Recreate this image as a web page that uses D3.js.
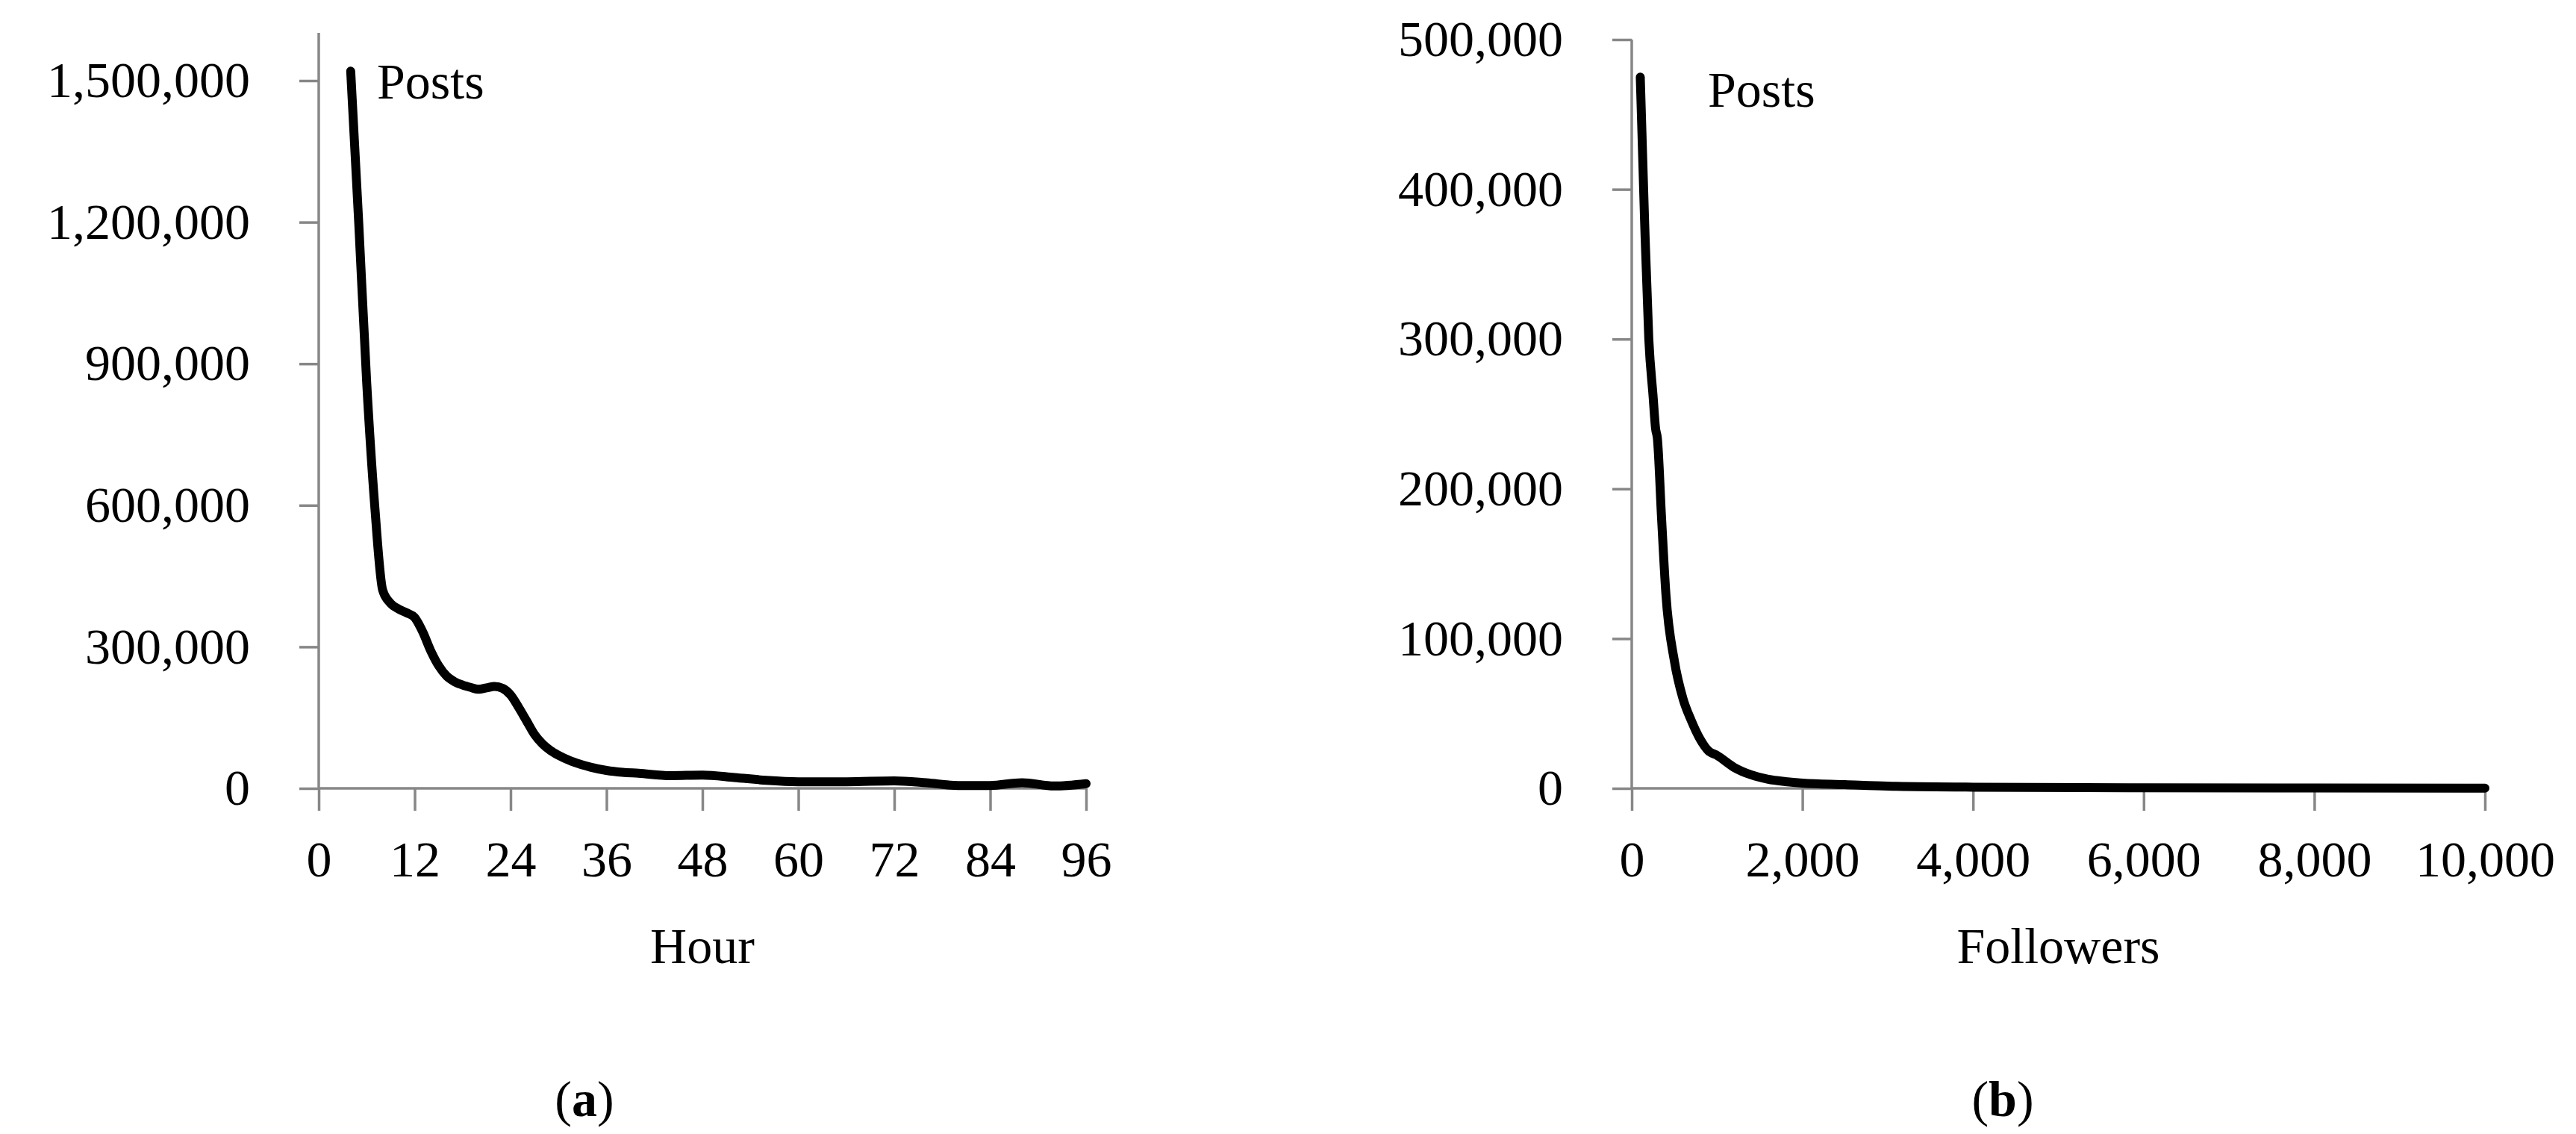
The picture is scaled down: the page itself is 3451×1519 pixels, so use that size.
<!DOCTYPE html>
<html><head><meta charset="utf-8">
<script src="https://cdn.jsdelivr.net/npm/d3@7"></script>
<style>body{margin:0;background:#fff}text{font-family:"Liberation Serif","DejaVu Serif",serif;fill:#000}</style>
</head><body><svg id="c" width="3451" height="1519"></svg>
<script>
var hourX = [4,5,6,7,8,9,10,11,12,13,14,15,16,17,18,19,20,21,22,23,24,25,26,27,28,29,30,32,34,36,38,40,44,48,52,56,60,66,72,76,80,84,88,92,96];
var hourPosts = [1520000,1200000,860000,600000,420000,392000,380000,372000,362000,332000,292000,260000,238000,226000,219000,214000,210000,213000,216000,212000,198000,172000,143000,114000,94000,80000,70000,55000,45000,38000,34000,32000,27000,28000,23000,17000,14000,14000,16000,12000,6000,6000,12000,5000,10000];
var follX = [100,150,200,250,280,300,350,400,500,600,700,800,900,1000,1200,1400,1600,1800,2000,2500,3000,4000,6000,8000,10000];
var follPosts = [475000,380000,300000,262000,240000,234000,180000,130000,85000,60000,45000,33000,25000,22000,14000,9000,6000,4500,3500,2500,1500,800,400,200,100];
var hourTicks = [0,12,24,36,48,60,72,84,96];
var hourYTicks = [0,300000,600000,900000,1200000,1500000];
var follTicks = [0,2000,4000,6000,8000,10000];
var follYTicks = [0,100000,200000,300000,400000,500000];

var svg = d3.select('#c');
var fmt = d3.format(',');

function panel(o) {
    var x = d3.scaleLinear().domain(o.xd).range([o.x0, o.x1]);
    var y = d3.scaleLinear().domain(o.yd).range([1056, o.ytop]);
    var g = svg.append('g');
    var ya = g.append('g').attr('transform', 'translate(' + o.x0 + ',0)')
        .call(d3.axisLeft(y).tickValues(o.yt).tickFormat(fmt).tickSize(26).tickPadding(66));
    ya.select('.domain').attr('d', 'M0,' + o.axTop + 'V1056');
    var xa = g.append('g').attr('transform', 'translate(0,1056)')
        .call(d3.axisBottom(x).tickValues(o.xt).tickFormat(fmt).tickSize(30).tickPadding(40));
    xa.select('.domain').attr('d', 'M' + o.x0 + ',0H' + o.x1);
    g.selectAll('.domain,.tick line').attr('stroke', '#878787').attr('stroke-width', 3.5);
    g.selectAll('.tick text').style('font-size', '68px').attr('fill', '#000');
    var line = d3.line().x(function (d) { return x(d[0]); }).y(function (d) { return y(d[1]); })
        .curve(d3.curveMonotoneX);
    g.append('path').datum(d3.zip(o.xs, o.ys)).attr('d', line)
        .attr('fill', 'none').attr('stroke', '#000').attr('stroke-width', 12).attr('stroke-linecap', 'round');
    g.append('text').attr('x', o.px).attr('y', o.py).style('font-size', '68px').text('Posts');
    g.append('text').attr('x', (o.x0 + o.x1) / 2).attr('y', 1290).attr('text-anchor', 'middle')
        .style('font-size', '68px').text(o.title);
    var lab = g.append('text').attr('x', o.lx).attr('y', 1495).attr('text-anchor', 'middle').style('font-size', '68px');
    lab.append('tspan').text('(');
    lab.append('tspan').attr('font-weight', 'bold').text(o.letter);
    lab.append('tspan').text(')');
}

panel({xd: [0, 96], yd: [0, 1500000], x0: 427, x1: 1455, ytop: 108, axTop: 44,
    xt: hourTicks, yt: hourYTicks, xs: hourX, ys: hourPosts, px: 505, py: 132, title: 'Hour', letter: 'a', lx: 783});
panel({xd: [0, 10000], yd: [0, 500000], x0: 2186, x1: 3329, ytop: 53, axTop: 53,
    xt: follTicks, yt: follYTicks, xs: follX, ys: follPosts, px: 2288, py: 143, title: 'Followers', letter: 'b', lx: 2683});
</script></body></html>
